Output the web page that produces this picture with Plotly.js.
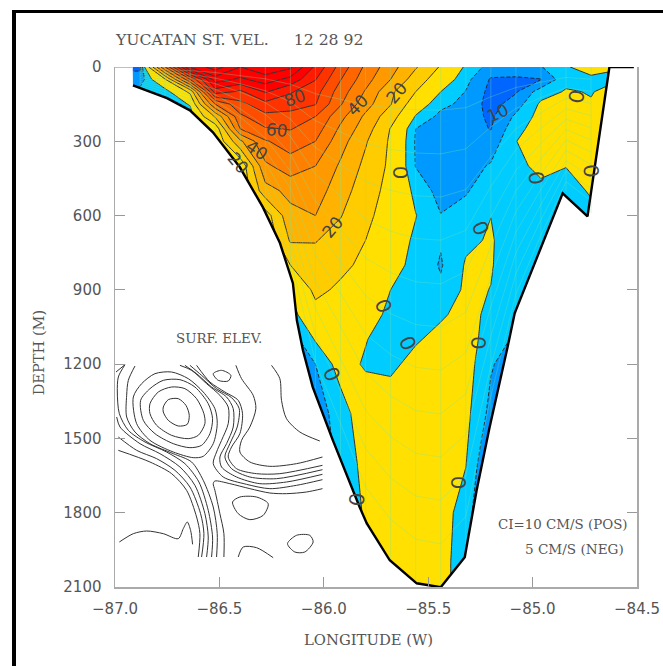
<!DOCTYPE html>
<html><head><meta charset="utf-8">
<script src="https://cdn.plot.ly/plotly-3.0.1.min.js"></script>
<style>
html,body{margin:0;padding:0;background:#fff;overflow:hidden}
#frame{position:absolute;left:12px;top:10px;right:0;bottom:0;border-top:3.5px solid #000;border-left:4px solid #000;z-index:2;pointer-events:none}
#chart{position:absolute;left:0;top:0;width:663px;height:666px}
</style></head><body>
<div id="frame"></div><div id="chart"></div>
<script>
// ---- Section grid -------------------------------------------------------
var stationLon = [-86.95,-86.88,-86.76,-86.64,-86.52,-86.40,-86.28,-86.16,-86.04,-85.92,-85.80,-85.68,-85.56,-85.44,-85.32,-85.20,-85.08,-84.96,-84.84,-84.72,-84.60];
var depthLevels = [0,50,100,150,200,250,300,400,500,600,700,800,900,1000,1100,1200,1400,1600,1800,2000,2100];
// velocity (cm/s) at each station, top to bottom
var v01=[-11,-8,-3,-3,-3,-3,-3,-3,-3,-3,-3,-3,-3,-3,-3,-3,-3,-3,-3,-3,-3];
var v02=[-11,-8,-3,-3,-3,-3,-3,-3,-3,-3,-3,-3,-3,-3,-3,-3,-3,-3,-3,-3,-3];
var v03=[50,9,-3,-4,-4,-4,-4,-4,-4,-4,-4,-4,-4,-4,-4,-4,-4,-4,-4,-4,-4];
var v04=[112,60,12,0.5,-3,-4,-4,-4,-4,-4,-4,-4,-4,-4,-4,-4,-4,-4,-4,-4,-4];
var v05=[125,105,85,50,21,3,1,-1,-3,-4,-4,-4,-4,-4,-4,-4,-4,-4,-4,-4,-4];
var v06=[110,98,78,67,58,50,28,2,1,-1,-3,-4,-4,-4,-4,-4,-4,-4,-4,-4,-4];
var v07=[118,105,91,77,67,59,49,38,26,5,1,-1,-3,-4,-6,-7,-8,-8,-8,-8,-8];
var v08=[112,97,81,75,66,60.5,55,45,33,27,21,10,1,-3,-8,-8,-8,-8,-8,-8,-8];
var v09=[88,80.5,74,70.5,60,55,50,40,35,30,20.5,16,12,7,0.5,-5,-7.5,-8,-8,-8,-8];
var v10=[66,60.5,55,51,43,38,34,28.5,24,20.5,16,12,8.5,6,3.5,2.5,-2.8,-4,-6,-8,-8];
var v11=[48,44,39,34,28,24.5,21,17.5,15,12.5,10,8,6,4,0.3,-0.7,4,2,1,0,0];
var v12=[34,30,22,20.5,14,9.5,8.5,8,6.5,5,3.5,2,0,-2,-3,-1,3,3,2,2,2];
var v13=[21,15,10,4,-0.5,-5,-5.5,-5.2,-1.5,0.2,-1,-1.5,-2,-2,-0.5,1.5,2.5,3,3,3,3];
var v14=[9,4.5,0,-3.5,-6.5,-7.5,-8,-7.5,-7,-4.8,-4.5,-5.5,-4,-0.6,1.4,3,3,3,2,2,2];
var v15=[-1,-3.5,-5.2,-6.5,-7.5,-8,-8,-7,-5.5,-3,-1,0.5,1,1.5,2,2.5,1.5,0.2,-2,-3,-3];
var v16=[-7,-10.5,-11.5,-12,-11,-10.2,-8,-4.5,-2,-0.05,0.5,0.4,-0.1,-1,-2,-4.5,-6.5,-11,-14,-14,-14];
var v17=[-7,-10.8,-10.5,-7.5,-4,-1.5,-0.1,-1,-2,-2.5,-3,-3.5,-4,-4.8,-6,-8,-8,-8,-8,-8,-8];
var v18=[-5.3,-10.2,-2.5,1,2,2.5,2.5,1,-1,-2,-3,-3,-3,-3,-3,-3,-3,-3,-3,-3,-3];
var v19=[-0.2,-1.5,0.5,1.5,2,2.5,3,0.1,-1.5,-2,-2,-2,-2,-2,-2,-2,-2,-2,-2,-2,-2];
var v20=[1,-0.5,-0.3,0.4,2,2.5,3,3,0.4,-1,-2,-2,-2,-2,-2,-2,-2,-2,-2,-2,-2];
var v21=[0.2,-0.5,2,3,3,3,3,3,3,3,3,3,3,3,3,3,3,3,3,3,3];
var velocityByStation=[v01,v02,v03,v04,v05,v06,v07,v08,v09,v10,v11,v12,v13,v14,v15,v16,v17,v18,v19,v20,v21];

// sea floor
var bottomLon  =[-86.915,-86.914,-86.751,-86.641,-86.531,-86.402,-86.292,-86.21,-86.148,-86.129,-86.10,-86.053,-85.957,-85.828,-85.794,-85.684,-85.555,-85.44,-85.325,-85.268,-85.206,-85.12,-85.086,-84.856,-84.737,-84.632,-84.515];
var bottomDepth=[0,74,126,175,264,405,566,711,873,1023,1144,1293,1507,1778,1843,1992,2085,2101,1980,1709,1455,1132,995,510,603,0,0];

// CTD section grid
var gridLon   =[-86.88,-86.76,-86.64,-86.52,-86.40,-86.28,-86.16,-86.04,-85.92,-85.80,-85.68,-85.56,-85.44,-85.32,-85.20,-85.08,-84.96,-84.84,-84.72];
var gridBottom=[85,120,175,270,405,575,840,1300,1570,1850,1992,2080,2100,1980,1450,1000,740,505,590];
var gridSigma =[0.083,0.167,0.25,0.333,0.417,0.5,0.583,0.667,0.75,0.833,0.917];

// band colours, one per contour band from below -15 upward (steps of 5 cm/s)
var negativeColor=['#0055ff','#0066ff','#0099ff','#00ccff'];
var positiveColor=['#ffe000','#ffcc00','#ffb300','#ff9900','#ff8000','#ff6600','#ff4d00','#ff3300','#ff1a00','#ff0000','#ff0000','#ff0000','#ff0000','#ff0000'];

var tickLon=[-87,-86.5,-86,-85.5,-85,-84.5];
var tickLonText=['−87.0','−86.5','−86.0','−85.5','−85.0','−84.5'];
var tickDepth=[0,300,600,900,1200,1500,1800,2100];

// contour labels
var zeroLon  =[-85.627,-84.785,-84.976,-84.713,-85.244,-85.708,-85.593,-85.254,-85.957,-85.837,-85.349];
var zeroDepth=[425,122,445,417,647,962,1112,1112,1237,1746,1677];
var zeroAngle=[90,100,80,85,65,70,65,90,65,95,90];
var valLon  =[-86.139,-86.225,-85.837,-86.321,-85.651,-85.957,-86.411,-85.167];
var valDepth=[126,255,155,336,106,647,389,187];
var valText =['80','60','40','40','20','20','20','10'];
var valAngle=[-20,5,-45,35,-50,-50,50,-25];

// surface elevation inset (own map coordinates)
var elevX=[
[190,205,235,258,268,262,235,205,190,190],
[150,175,215,255,290,312,315,295,265,215,170,150,150],
[122,150,190,240,285,325,338,330,305,270,220,165,130,122],
[100,125,165,215,265,310,345,352,340,310,280,220,150,110,100],
[295,300,290,260,215,150,55],
[305,312,302,270,225,170,110,55],
[320,325,315,285,240,180,120,60,50],
[335,338,325,297,255,200,135,85,58,52,55,75],
[350,352,340,310,275,220,150,105,80,80,85,105],
[372,372,360,345,340,345,390,450,510,560,620,668],
[240,275,320,360,385,385,365,350,340,370,440,510,590,668],
[255,290,335,380,400,400,380,360,365,410,480,560,668],
[270,305,350,395,418,412,390,375,395,450,530,668],
[290,330,375,415,428,420,395,385,410,470,540,668],
[408,425,460,468,450,425,420,450,510,590,668],
[515,540,545,560,600,660],
[340,365,393,385,355,340],
[398,420,470,505,490,450,415,398],
[563,590,630,640,615,585,563],
[415,430,470,520],
[58,100,140,190,235,250,262,272,278],
[48,75]];
var elevY=[
[260,238,235,255,285,312,317,300,275,260],
[250,215,200,205,235,280,310,345,355,345,315,280,250],
[240,205,180,178,200,250,295,340,375,382,370,340,300,240],
[230,190,160,155,175,215,265,310,370,408,412,395,360,310,230],
[710,640,590,510,460,425,390],
[710,640,580,500,450,415,390,350],
[710,650,580,495,440,400,370,320,290],
[710,650,570,485,430,395,365,330,280,215,170,133],
[710,640,560,480,425,400,370,335,290,225,180,137],
[710,640,580,510,490,482,490,505,518,520,515,505],
[135,150,190,225,260,310,360,395,430,470,492,505,495,478],
[135,160,200,230,265,320,370,410,440,470,490,485,462],
[135,165,205,232,265,320,370,410,445,470,475,448],
[135,185,215,240,280,340,380,410,445,460,460,435],
[135,175,225,265,320,360,395,425,438,430,410],
[135,175,240,295,335,362],
[160,150,165,182,180,160],
[545,530,530,550,585,598,580,545],
[670,645,645,665,695,695,670],
[710,680,682,712],
[665,640,632,640,655,625,605,630,672],
[155,133]];

// ---- Assemble ----------------------------------------------------------
var cStart=-15,cEnd=130,cSize=5;
var nBands=Math.floor((cEnd-cStart)/cSize)+1;
var scale=[];
for(var k=0;k<=nBands;k++){
  var low=cStart+(k-1)*cSize;
  var col=low<0?negativeColor[k]:positiveColor[Math.min(Math.floor(low/10),positiveColor.length-1)];
  scale.push([k/nBands,col]);
}
var gx=[],gy=[];
gridLon.forEach(function(l,i){gx.push(l,l,null);gy.push(0,gridBottom[i],null);});
gridSigma.forEach(function(s){gridLon.forEach(function(l,i){gx.push(l);gy.push(s*gridBottom[i]);});gx.push(null);gy.push(null);});

var common={x:stationLon,y:depthLevels,z:velocityByStation,transpose:true,type:'contour',autocontour:false,showscale:false,hoverinfo:'skip'};
function withProps(p){var o={};for(var a in common)o[a]=common[a];for(var b in p)o[b]=p[b];return o;}
var traces=[
 withProps({colorscale:scale,contours:{start:cStart,end:cEnd,size:cSize,coloring:'fill',showlines:false},line:{width:0,smoothing:0}}),
 withProps({contours:{start:0,end:cEnd,size:10,coloring:'none'},line:{color:'#333',width:1,smoothing:0,dash:'solid'}}),
 withProps({contours:{start:-15,end:-5,size:5,coloring:'none'},line:{color:'#222',width:0.9,smoothing:0,dash:'4px,2px'}}),
 {type:'scatter',mode:'lines',x:bottomLon.concat([-84.5,-84.5,-87,-87,-86.915]),y:bottomDepth.concat([0,2100,2100,0,0]),fill:'toself',fillcolor:'#fff',line:{width:0},hoverinfo:'skip'},
 {type:'scatter',mode:'lines',x:gx,y:gy,line:{color:'rgba(120,230,160,0.4)',width:0.8},connectgaps:false,hoverinfo:'skip'},
 {type:'scatter',mode:'lines',x:bottomLon.slice(1),y:bottomDepth.slice(1),line:{color:'#000',width:2.4},hoverinfo:'skip'},
 {type:'scatter',mode:'lines',x:[-87,-86.915],y:[0,0],line:{color:'#aaa',width:1.5},hoverinfo:'skip'}
];
elevX.forEach(function(xs,i){
  traces.push({type:'scatter',mode:'lines',x:xs,y:elevY[i],xaxis:'x2',yaxis:'y2',line:{color:'#333',width:1,shape:'spline',smoothing:0.8},hoverinfo:'skip'});
});
var fontFam='"DejaVu Serif",serif', tickFam='"DejaVu Sans",sans-serif';
var ann=[];
zeroLon.forEach(function(l,i){ann.push({x:l,y:zeroDepth[i],text:'0',textangle:zeroAngle[i],showarrow:false,font:{family:'Lato,sans-serif',size:21,color:'#444'}});});
valLon.forEach(function(l,i){ann.push({x:l,y:valDepth[i],text:valText[i],textangle:valAngle[i],showarrow:false,font:{family:tickFam,size:17,color:'#444'}});});
function pap(px,py,text,size,anchor){return {xref:'paper',yref:'paper',x:(px-115)/522.5,y:(586.7-py)/520,text:text,showarrow:false,xanchor:anchor||'left',yanchor:'middle',font:{family:fontFam,size:size,color:'#555'}};}
ann.push(pap(113,39,'YUCATAN ST. VEL.\u00a0\u00a0\u00a0\u00a0\u00a012 28 92',15.7));
ann.push(pap(174,338,'SURF. ELEV.',13.4));
ann.push(pap(630,524,'CI=10 CM/S (POS)',13.4,'right'));
ann.push(pap(626,549,'5 CM/S (NEG)',13.6,'right'));
ann.push(pap(302,639,'LONGITUDE (W)',14.8));
var d=pap(38,352,'DEPTH (M)',14.6,'center');d.textangle=-90;ann.push(d);

var layout={
 width:663,height:666,autosize:false,showlegend:false,
 paper_bgcolor:'rgba(0,0,0,0)',plot_bgcolor:'rgba(0,0,0,0)',
 margin:{l:115,r:25.5,t:66.7,b:79.3,pad:0},
 xaxis:{range:[-87,-84.5],tickvals:tickLon,ticktext:tickLonText,ticks:'inside',ticklen:10,tickwidth:1,tickcolor:'#999',showline:true,linecolor:'#aaa',linewidth:1.5,mirror:false,showgrid:false,zeroline:false,ticklabelstandoff:7,tickfont:{family:tickFam,size:15,color:'#555'}},
 yaxis:{range:[2100,0],tickvals:tickDepth,ticks:'inside',ticklen:10,tickwidth:1,tickcolor:'#999',showline:true,linecolor:'#aaa',linewidth:1.5,mirror:'ticks',showgrid:false,zeroline:false,ticklabelstandoff:9,tickfont:{family:tickFam,size:15,color:'#555'}},
 xaxis2:{range:[45,1612.5],visible:false,anchor:'y2',overlaying:'x',fixedrange:true},
 yaxis2:{range:[800,-760],visible:false,anchor:'x2',overlaying:'y',fixedrange:true},
 annotations:ann
};
Plotly.newPlot('chart',traces,layout,{displayModeBar:false,staticPlot:true});
</script></body></html>
